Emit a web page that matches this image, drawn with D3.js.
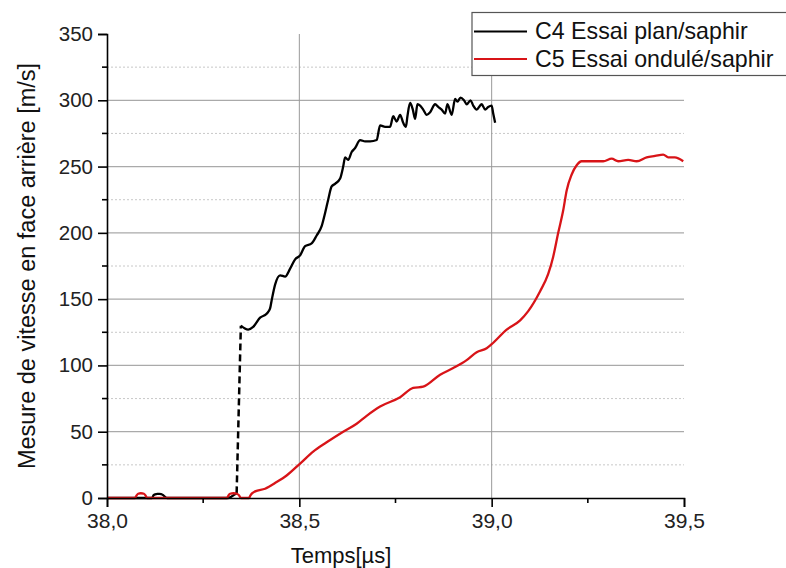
<!DOCTYPE html>
<html><head><meta charset="utf-8">
<script src="https://cdn.jsdelivr.net/npm/d3@7"></script>
<style>
html,body{margin:0;padding:0;background:#fff;}
svg{display:block;font-family:"Liberation Sans",Arial,sans-serif;}
</style></head>
<body>
<svg id="chart" width="786" height="568"></svg>
<script>
// ---- data ----
const xMajorTicks = [38.0, 38.5, 39.0, 39.5];
const xMinorTicks = [38.25, 38.75, 39.25];
const yMajorTicks = [0, 50, 100, 150, 200, 250, 300, 350];
const yMinorTicks = [25, 75, 125, 175, 225, 275, 325];
const xGridLines = [38.5, 39.0];
const yGridMajor = [50, 100, 150, 200, 250, 300];
const yGridMinor = [25, 75, 125, 175, 225, 275, 325];

const seriesNames = ["C4 Essai plan/saphir", "C5 Essai ondulé/saphir"];
const xTitle = "Temps[µs]";
const yTitle = "Mesure de vitesse en face arrière [m/s]";

// C4 (black)
const c4Time = [38.0, 38.117, 38.121, 38.125, 38.131, 38.136, 38.141, 38.146, 38.151, 38.156, 38.315, 38.326, 38.337,
  38.348, 38.367, 38.380, 38.398, 38.415, 38.424, 38.428, 38.437, 38.450, 38.463, 38.476, 38.489, 38.502, 38.515,
  38.532, 38.545, 38.558, 38.567, 38.575, 38.584, 38.593, 38.606, 38.614, 38.619, 38.627, 38.636, 38.645, 38.658,
  38.671, 38.684, 38.701, 38.710, 38.723, 38.736, 38.744, 38.753, 38.762, 38.770, 38.777, 38.781, 38.788, 38.795,
  38.801, 38.807, 38.814, 38.822, 38.831, 38.840, 38.853, 38.861, 38.870, 38.879, 38.885, 38.896, 38.905, 38.911,
  38.919, 38.928, 38.935, 38.945, 38.952, 38.961, 38.974, 38.983, 38.991, 39.000, 39.004, 39.009];
const c4Vel = [0, 0, 2, 2.8, 3.1, 3.1, 3.0, 2.2, 0.8, 0, 0, 1.5, 3.5,
  130, 127, 129, 136, 139, 143, 149, 161, 168, 167, 173, 180, 183, 190,
  192, 198, 205, 215, 225, 235, 237, 241, 250, 257, 255, 261, 264, 270,
  269, 269, 270, 281, 280, 280, 288, 284, 289, 283, 280, 288, 298, 293,
  286, 297, 296, 293, 289, 291, 297, 295, 293, 290, 297, 289, 301, 299,
  302, 300, 297, 300, 296, 293, 297, 293, 295, 296, 290, 283];

// C5 (red)
const c5Time = [38.0, 38.073, 38.077, 38.081, 38.088, 38.096, 38.100, 38.104, 38.312, 38.316, 38.320, 38.329, 38.338,
  38.343, 38.348, 38.369, 38.373, 38.377, 38.385, 38.411, 38.441, 38.467, 38.502, 38.536, 38.571, 38.614, 38.649,
  38.675, 38.710, 38.762, 38.796, 38.822, 38.866, 38.900, 38.935, 38.961, 38.987, 39.000, 39.039, 39.074, 39.095,
  39.126, 39.147, 39.160, 39.173, 39.186, 39.195, 39.208, 39.221, 39.234, 39.243, 39.264, 39.290, 39.312, 39.329,
  39.355, 39.377, 39.403, 39.425, 39.446, 39.459, 39.476, 39.498];
const c5Vel = [0, 0, 2, 3.2, 3.6, 3.2, 2, 0, 0, 2, 3.2, 3.6, 3.2,
  2, 0, 0, 2, 3.5, 5, 7, 12, 17, 26, 35, 42, 50, 56,
  62, 69, 76, 83, 84, 93, 98, 104, 110, 113, 116, 127, 134, 141,
  156, 169, 182, 200, 217, 232, 244, 251, 254, 254, 254, 254, 256, 254,
  255, 254, 257, 258, 259, 257, 257, 254];

const colors = ["#000000", "#d81418"];

// ---- chart ----
const svg = d3.select("#chart");
const x = d3.scaleLinear().domain([38.0, 39.5]).range([107, 684]);
const y = d3.scaleLinear().domain([0, 350]).range([498, 34]);
const fmt = d => d3.format(".1f")(d).replace(".", ",");
const FONT = "'Liberation Sans',Arial,sans-serif";

// grid
const g = svg.append("g");
g.selectAll(".gmin").data(yGridMinor).enter().append("line")
  .attr("x1", x(38.0)).attr("x2", x(39.5)).attr("y1", d => y(d)).attr("y2", d => y(d))
  .attr("stroke", "#c8c8c8").attr("stroke-width", 1).attr("stroke-dasharray", "2,2");
g.selectAll(".gmaj").data(yGridMajor).enter().append("line")
  .attr("x1", x(38.0)).attr("x2", x(39.5)).attr("y1", d => y(d)).attr("y2", d => y(d))
  .attr("stroke", "#aaaaaa").attr("stroke-width", 1.2);
g.selectAll(".gx").data(xGridLines).enter().append("line")
  .attr("x1", d => x(d)).attr("x2", d => x(d)).attr("y1", y(350)).attr("y2", y(0))
  .attr("stroke", "#999999").attr("stroke-width", 1);

// curves
const line = d3.line().x(d => x(d[0])).y(d => y(d[1])).curve(d3.curveMonotoneX);
function drawSeries(ts, vs, color) {
  const pts = ts.map((t, i) => [t, vs[i]]);
  let segs = [[pts[0]]];
  const dashed = [];
  for (let i = 1; i < pts.length; i++) {
    if (Math.abs(pts[i][1] - pts[i - 1][1]) > 50) {
      dashed.push([pts[i - 1], pts[i]]);
      segs.push([pts[i]]);
    } else segs[segs.length - 1].push(pts[i]);
  }
  segs.forEach(s => svg.append("path").attr("d", line(s)).attr("fill", "none")
    .attr("stroke", color).attr("stroke-width", 2.3).attr("stroke-linejoin", "round"));
  dashed.forEach(s => svg.append("path").attr("d", d3.line().x(d => x(d[0])).y(d => y(d[1]))(s))
    .attr("fill", "none").attr("stroke", color).attr("stroke-width", 2.5).attr("stroke-dasharray", "7,4"));
}
drawSeries(c4Time, c4Vel, colors[0]);
drawSeries(c5Time, c5Vel, colors[1]);

// axes
const xAxis = svg.append("g").attr("transform", `translate(0,${y(0)})`)
  .call(d3.axisBottom(x).tickValues(xMajorTicks).tickFormat(fmt).tickSize(9).tickPadding(6));
xAxis.select(".domain").attr("stroke-width", 1.6);
xAxis.selectAll(".tick line").attr("stroke-width", 1.6);
xAxis.selectAll("text").attr("font-size", 21).attr("fill", "#222").attr("font-family", FONT);
xAxis.selectAll(".minor").data(xMinorTicks).enter().append("line")
  .attr("x1", d => x(d)).attr("x2", d => x(d)).attr("y1", 0).attr("y2", 5)
  .attr("stroke", "#000").attr("stroke-width", 1.6);

const yAxis = svg.append("g").attr("transform", `translate(${x(38.0)},0)`)
  .call(d3.axisLeft(y).tickValues(yMajorTicks).tickFormat(d3.format("d")).tickSize(9).tickPadding(5));
yAxis.select(".domain").attr("stroke-width", 1.6);
yAxis.selectAll(".tick line").attr("stroke-width", 1.6);
yAxis.selectAll("text").attr("font-size", 20.5).attr("fill", "#222").attr("font-family", FONT);
yAxis.selectAll(".minor").data(yMinorTicks).enter().append("line")
  .attr("x1", -5).attr("x2", 0).attr("y1", d => y(d)).attr("y2", d => y(d))
  .attr("stroke", "#000").attr("stroke-width", 1.6);

// titles
svg.append("text").attr("x", 341).attr("y", 563).attr("text-anchor", "middle")
  .attr("font-size", 22).attr("fill", "#111").text(xTitle);
svg.append("text").attr("transform", "translate(35,266) rotate(-90)").attr("text-anchor", "middle")
  .attr("font-size", 23.5).attr("fill", "#111").text(yTitle);

// legend
const lg = svg.append("g");
lg.append("rect").attr("x", 472).attr("y", 12.5).attr("width", 330).attr("height", 63)
  .attr("fill", "#fff").attr("stroke", "#555").attr("stroke-width", 1.2);
seriesNames.forEach((n, i) => {
  const yy = 31.5 + i * 27.5;
  lg.append("line").attr("x1", 474).attr("x2", 527).attr("y1", yy).attr("y2", yy)
    .attr("stroke", colors[i]).attr("stroke-width", 2);
  lg.append("text").attr("x", 535).attr("y", yy + 7.5).attr("font-size", 23.2)
    .attr("fill", "#111").text(n);
});
</script>
</body></html>
